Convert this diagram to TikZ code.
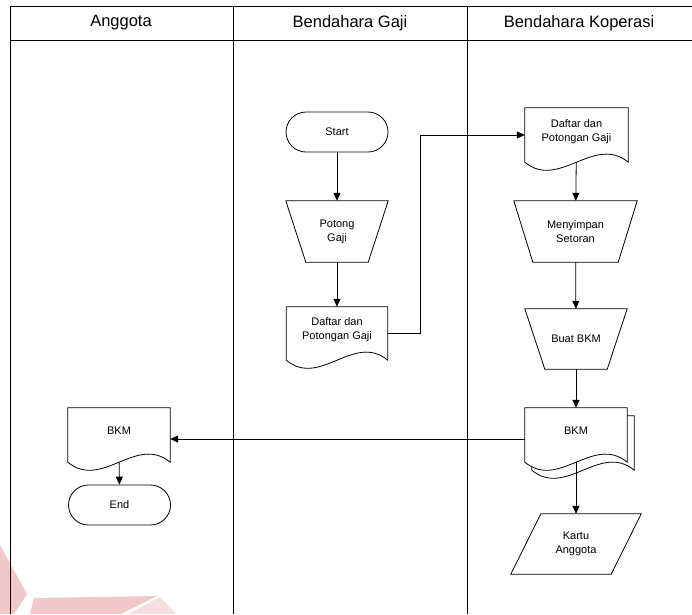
\documentclass[tikz,border=0pt]{standalone}
\usepackage{fontspec}
\setmainfont{Liberation Sans}
\usetikzlibrary{arrows.meta,backgrounds}

\definecolor{markpink}{RGB}{242,200,205}
\definecolor{markpinklight}{RGB}{247,222,225}

% document symbol with a wavy lower edge, optionally offset by (#3,#4)
\newcommand{\drawdoc}[4][]{%
  \draw[shp,#1] ([xshift=#3,yshift=#4]#2.north west) -- ([xshift=#3,yshift=#4]#2.north east)
    -- ([xshift=#3,yshift=#4]#2.south east)
    .. controls ([xshift=#3-34pt,yshift=#4+28pt]#2.south east)
           and ([xshift=#3+34pt,yshift=#4-28pt]#2.south west)
    .. ([xshift=#3,yshift=#4]#2.south west) -- cycle;}
% manual operation: trapezium narrowing downwards by #2 on each side
\newcommand{\drawtrap}[2]{%
  \draw[shp] (#1.north west) -- (#1.north east) -- ([xshift=-#2]#1.south east)
    -- ([xshift=#2]#1.south west) -- cycle;}
% input/output: parallelogram slanted by #2
\newcommand{\drawpara}[2]{%
  \draw[shp] ([xshift=#2]#1.north west) -- (#1.north east) -- ([xshift=-#2]#1.south east)
    -- (#1.south west) -- cycle;}

\begin{document}
\begin{tikzpicture}[x=1pt,y=-1pt,
  lane/.style={draw=black,line width=1pt},
  shp/.style={draw=black,line width=0.8pt},
  body/.style={font=\fontsize{11}{14}\selectfont,align=center,inner sep=0pt},
  doctext/.style={body,text depth=6pt},
  head/.style={font=\fontsize{16.5}{19}\selectfont,inner sep=0pt},
  term/.style={body,shp,rounded corners=20pt,minimum width=102pt,minimum height=40pt},
  box/.style 2 args={body,minimum width=#1,minimum height=#2},
  arr/.style={draw=black,line width=0.8pt,-{Triangle[length=8pt,width=7pt]}}]

\useasboundingbox (0,0) rectangle (692,614);

% faint logo mark in the lower left corner
\fill[markpink] (0,545) -- (27,594) -- (14,614) -- (0,614) -- cycle;
\fill[markpink] (34,598) -- (157,596) -- (121,614) -- (30,614) -- cycle;
\fill[markpinklight] (160,597) -- (176,614) -- (128,614) -- cycle;

% swimlane frame
\draw[lane] (10,614) -- (10,6) -- (692,6);
\draw[lane] (10,40) -- (692,40);
\draw[lane] (233,6) -- (233,614);
\draw[lane] (467,6) -- (467,614);
\node[head] (h1) at (121,23) {Anggota};
\node[head] (h2) at (350,23) {Bendahara Gaji};
\node[head] (h3) at (579,23) {Bendahara Koperasi};

% Bendahara Gaji
\node[term] (start) at (337,132) {Start};
\node[box={102pt}{61pt}] (potong) at (337,231.5) {Potong\\Gaji};
\drawtrap{potong}{20pt}
\node[box={101pt}{53pt}] (daftarA) at (337,333.5) {Daftar dan\\Potongan Gaji\vphantom{g}\\[-5pt]};
\drawdoc{daftarA}{0pt}{0pt}

% Bendahara Koperasi
\node[box={103pt}{54pt}] (daftarB) at (576.5,135) {Daftar dan\\Potongan Gaji\\[-5pt]};
\drawdoc{daftarB}{0pt}{0pt}
\node[box={123pt}{61pt}] (menyimpan) at (575.5,231.5) {Menyimpan\\Setoran};
\drawtrap{menyimpan}{19pt}
\node[box={102pt}{60pt}] (buat) at (576,339) {Buat BKM};
\drawtrap{buat}{20pt}
\node[box={102pt}{54pt}] (bkmB) at (576,435) {BKM\\[-5pt]};
\begin{pgfonlayer}{background}
  \drawdoc[fill=white]{bkmB}{7pt}{-8pt}
  \drawdoc[fill=white]{bkmB}{0pt}{0pt}
\end{pgfonlayer}
\node[box={130pt}{60pt}] (kartu) at (576,544) {Kartu\\Anggota};
\drawpara{kartu}{30pt}

% Anggota
\node[box={102pt}{54pt}] (bkmA) at (119,435) {BKM\\[-5pt]};
\drawdoc{bkmA}{0pt}{0pt}
\node[term] (end) at (119.5,505) {End};

% flow
\coordinate (route) at (420,0);
\draw[arr] (start) -- (potong);
\draw[arr] (potong) -- (daftarA);
\draw[arr] (daftarA.east) -| (daftarB.west -| route) -- (daftarB.west);
\draw[arr] (daftarB) -- (menyimpan);
\draw[arr] (menyimpan) -- (buat);
\draw[arr] (buat) -- (bkmB);
\draw[arr] ([yshift=-4pt]bkmB.west) -- ([yshift=-4pt]bkmA.east);
\draw[arr] (bkmA) -- (end);
\draw[arr] (bkmB) -- (kartu);
\end{tikzpicture}
\end{document}
